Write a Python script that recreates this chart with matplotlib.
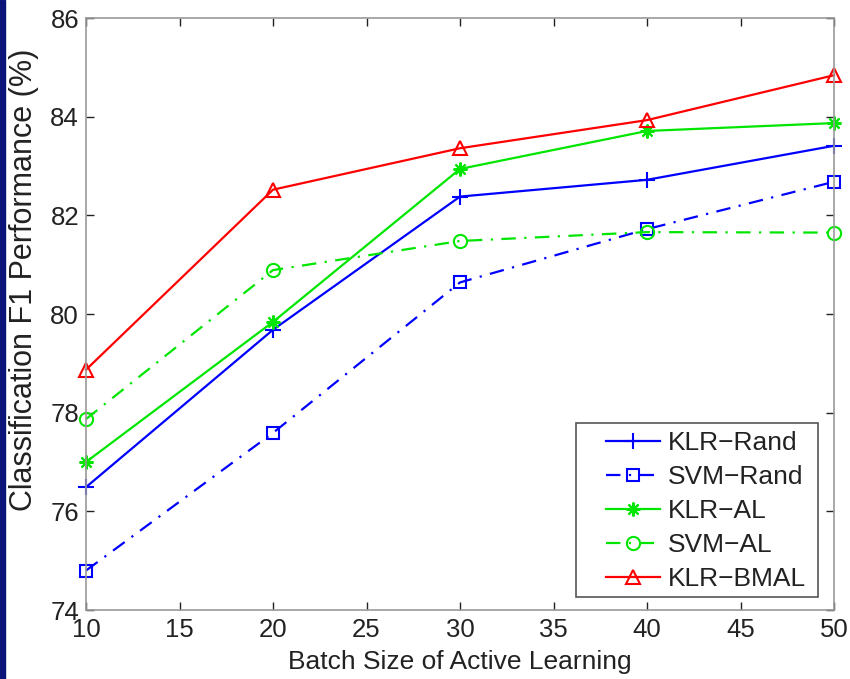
import matplotlib.pyplot as plt
from matplotlib.patches import Rectangle

# ===============================
# DATA
# ===============================
batch_sizes = [10, 20, 30, 40, 50]
klr_rand = [76.49, 79.68, 82.38, 82.72, 83.41]
svm_rand = [74.80, 77.59, 80.64, 81.72, 82.68]
klr_al = [77.00, 79.84, 82.94, 83.71, 83.87]
svm_al = [77.87, 80.89, 81.48, 81.66, 81.65]
klr_bmal = [78.87, 82.52, 83.36, 83.93, 84.84]
labels = ["KLR\u2212Rand", "SVM\u2212Rand", "KLR\u2212AL", "SVM\u2212AL", "KLR\u2212BMAL"]

dashdot = (0, (6.5, 3.8, 1, 3.8))
asterisk = (8, 2, 0)

series = [
    (klr_rand, "#0000ff", "-", "+", 11),
    (svm_rand, "#0000ff", dashdot, "s", 8.5),
    (klr_al, "#00e600", "-", asterisk, 10),
    (svm_al, "#00e600", dashdot, "o", 9.5),
    (klr_bmal, "#ff0000", "-", "^", 10.5),
]

plt.rcParams['font.family'] = ['Liberation Sans', 'DejaVu Sans']
W, H = 850, 679

fig = plt.figure(figsize=(8.5, 6.79), dpi=100)
ax = fig.add_axes([86 / W, 1 - 610 / H, (834 - 86) / W, (610 - 18) / H])

# navy strip on left edge
fig.patches.append(Rectangle((0, 0), 5 / W, 1, transform=fig.transFigure,
                             color="#0b1478", zorder=0))

for lab, (vals, color, ls, mk, ms) in zip(labels, series):
    ax.plot(batch_sizes, vals, color=color, linestyle=ls, marker=mk,
            markersize=ms, markerfacecolor="none", markeredgecolor=color,
            markeredgewidth=1.5, linewidth=1.6, label=lab, clip_on=False)

ax.set_xlim(10, 50)
ax.set_ylim(74, 86)
ax.set_xticks([10, 15, 20, 25, 30, 35, 40, 45, 50])
ax.set_yticks([74, 76, 78, 80, 82, 84, 86])
ax.tick_params(direction="in", top=True, right=True, length=6, width=1,
               labelsize=18.5, colors="#222222")
ax.tick_params(axis="y", pad=5)
ax.tick_params(axis="x", pad=6)
for sp in ax.spines.values():
    sp.set_color("#999999")
    sp.set_linewidth(1.2)

fig.text(460 / W, 1 - 662 / H, "Batch Size of Active Learning", fontsize=19,
         color="#222222", ha="center", va="center")
fig.text(24 / W, 1 - 280 / H, "Classification F1 Performance (%)", fontsize=22,
         color="#222222", ha="center", va="center", rotation=90)

# legend frame drawn separately (MATLAB-style padding)
frame = Rectangle((576 / W, 1 - 597 / H), 242 / W, 174 / H, transform=fig.transFigure,
                  facecolor="white", edgecolor="#555555", linewidth=1.2,
                  zorder=4, clip_on=False)
ax.add_patch(frame)
leg = ax.legend(loc="upper left", bbox_to_anchor=(606 / W, 1 - 431 / H),
                bbox_transform=fig.transFigure, fontsize=19, frameon=False,
                borderpad=0, borderaxespad=0, labelspacing=0.38,
                handlelength=2.05, handletextpad=0.3)
leg.set_zorder(6)
for t in leg.get_texts():
    t.set_color("#222222")

fig.savefig("out.png", dpi=100)
